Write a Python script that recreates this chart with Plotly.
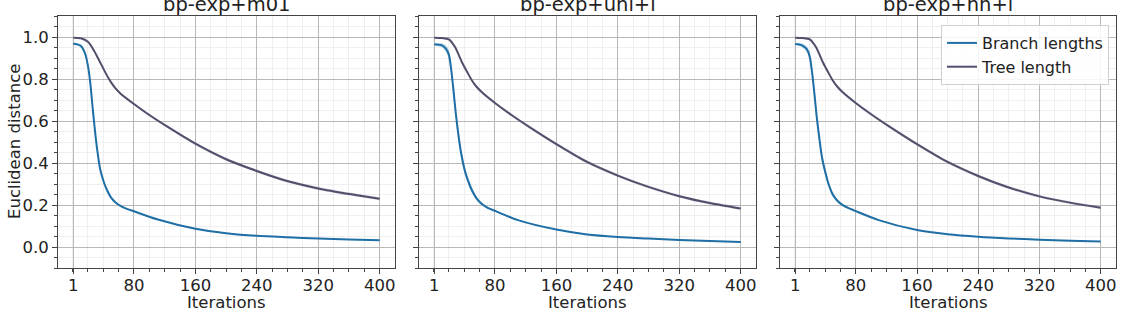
import plotly.graph_objects as go

# ---- data ----
titles = ["bp-exp+m01", "bp-exp+uni+l", "bp-exp+nn+l"]

branch_iters = [1, 6, 11, 16, 20, 23, 26, 29, 32, 36, 41, 45, 50, 56, 63, 70, 80,
                110, 160, 200, 240, 280, 320, 360, 400]
branch_m01 = [0.968, 0.965, 0.957, 0.925, 0.864, 0.785, 0.67, 0.56, 0.466, 0.37, 0.306, 0.27, 0.236, 0.212,
              0.195, 0.183, 0.170, 0.132, 0.087, 0.066, 0.053, 0.046, 0.040, 0.036, 0.032]
branch_uni = [0.965, 0.963, 0.960, 0.945, 0.915, 0.845, 0.745, 0.635, 0.545, 0.445, 0.36, 0.315, 0.27, 0.232,
              0.205, 0.188, 0.172, 0.128, 0.083, 0.060, 0.048, 0.040, 0.033, 0.028, 0.024]
branch_nn = [0.967, 0.964, 0.958, 0.942, 0.905, 0.83, 0.73, 0.62, 0.53, 0.425, 0.345, 0.294, 0.25, 0.22,
             0.199, 0.186, 0.171, 0.128, 0.081, 0.061, 0.049, 0.041, 0.035, 0.030, 0.026]
branch_m01_sd = [0.005, 0.006, 0.008, 0.012, 0.018, 0.02, 0.02, 0.02, 0.018, 0.014, 0.01, 0.009, 0.007, 0.005,
                 0.004, 0.003, 0.003, 0.002, 0.002, 0.002, 0.002, 0.002, 0.002, 0.002, 0.002]
branch_uni_sd = [0.005, 0.007, 0.010, 0.016, 0.024, 0.03, 0.03, 0.03, 0.028, 0.025, 0.02, 0.018, 0.015, 0.01,
                 0.007, 0.005, 0.004, 0.002, 0.002, 0.002, 0.002, 0.002, 0.002, 0.002, 0.002]
branch_nn_sd = [0.005, 0.007, 0.010, 0.015, 0.022, 0.027, 0.028, 0.028, 0.026, 0.022, 0.018, 0.015, 0.012, 0.008,
                0.006, 0.004, 0.004, 0.002, 0.002, 0.002, 0.002, 0.002, 0.002, 0.002, 0.002]

tree_iters = [1, 11, 20, 28, 37, 44, 50, 56, 63, 80, 101, 123, 160, 200, 240, 276, 320, 363, 400]
tree_m01 = [0.997, 0.994, 0.977, 0.935, 0.872, 0.822, 0.785, 0.755, 0.729, 0.681, 0.626, 0.574, 0.492, 0.418,
            0.362, 0.318, 0.279, 0.251, 0.230]
tree_uni = [0.997, 0.995, 0.989, 0.952, 0.880, 0.832, 0.793, 0.763, 0.737, 0.686, 0.630, 0.576, 0.490, 0.405,
            0.340, 0.291, 0.242, 0.207, 0.183]
tree_nn = [0.997, 0.995, 0.989, 0.952, 0.880, 0.832, 0.793, 0.763, 0.737, 0.686, 0.630, 0.576, 0.490, 0.405,
           0.338, 0.288, 0.241, 0.209, 0.187]
tree_sd = [0.002, 0.003, 0.004, 0.006, 0.006, 0.006, 0.006, 0.006, 0.006, 0.006, 0.006, 0.006, 0.007, 0.007,
           0.007, 0.007, 0.007, 0.007, 0.007]

x_ticks = [1, 80, 160, 240, 320, 400]
y_ticks = [0.0, 0.2, 0.4, 0.6, 0.8, 1.0]

panels = [
    (branch_m01, branch_m01_sd, tree_m01, tree_sd),
    (branch_uni, branch_uni_sd, tree_uni, tree_sd),
    (branch_nn, branch_nn_sd, tree_nn, tree_sd),
]

# ---- style ----
FONT = "DejaVu Sans"
W, H = 1124, 316
ML, MR, MT, MB = 58, 8, 16, 48
pw = W - ML - MR
ph = H - MT - MB
px_domains = [(58, 395), (419, 756), (780, 1116)]
domains = [((a - ML) / pw, (b - ML) / pw) for a, b in px_domains]

BLUE = "#1f6fa6"
BLUE_BAND = "rgba(31,119,180,0.25)"
GRAY = "#50506c"
GRAY_BAND = "rgba(80,80,120,0.22)"
SMOOTH = 0.7

fig = go.Figure()

for i, (b, bsd, t, tsd) in enumerate(panels):
    xa = "x" if i == 0 else f"x{i+1}"
    ya = "y" if i == 0 else f"y{i+1}"
    for xs, vals, sd, col, band, name in [(branch_iters, b, bsd, BLUE, BLUE_BAND, "Branch lengths"),
                                          (tree_iters, t, tsd, GRAY, GRAY_BAND, "Tree length")]:
        lo = [v - s for v, s in zip(vals, sd)]
        hi = [v + s for v, s in zip(vals, sd)]
        fig.add_trace(go.Scatter(x=xs, y=lo, mode="lines",
                                 line=dict(width=0, shape="spline", smoothing=SMOOTH),
                                 showlegend=False, hoverinfo="skip", xaxis=xa, yaxis=ya))
        fig.add_trace(go.Scatter(x=xs, y=hi, mode="lines",
                                 line=dict(width=0, shape="spline", smoothing=SMOOTH),
                                 fill="tonexty", fillcolor=band, showlegend=False, hoverinfo="skip",
                                 xaxis=xa, yaxis=ya))
        fig.add_trace(go.Scatter(x=xs, y=vals, mode="lines", name=name,
                                 line=dict(color=col, width=2, shape="spline", smoothing=SMOOTH),
                                 showlegend=(i == 2), xaxis=xa, yaxis=ya))

axis_common = dict(
    showline=True, linecolor="#444", linewidth=1, mirror=True,
    showgrid=True, gridcolor="#b8b8b8", gridwidth=1,
    ticks="outside", ticklen=5, tickcolor="#444", tickwidth=1,
    tickfont=dict(family=FONT, size=16.5, color="#222"),
    zeroline=False,
)

layout = dict(
    width=W, height=H,
    margin=dict(l=ML, r=MR, t=MT, b=MB),
    paper_bgcolor="white", plot_bgcolor="white",
    font=dict(family=FONT, color="#222"),
    showlegend=True,
    legend=dict(x=(1109 - ML) / pw, y=(MT + ph - 25) / ph, xanchor="right", yanchor="top",
                traceorder="normal",
                bgcolor="rgba(255,255,255,0.85)", bordercolor="#d0d0d0", borderwidth=1,
                font=dict(family=FONT, size=16, color="#222"), tracegroupgap=0),
)

annotations = []
for i in range(3):
    sfx = "" if i == 0 else str(i + 1)
    layout["xaxis" + sfx] = dict(
        axis_common, domain=list(domains[i]), range=[-18.95, 419.95],
        tickmode="array", tickvals=x_ticks, ticktext=[str(v) for v in x_ticks],
        anchor="y" + sfx, ticklabelstandoff=-3,
        minor=dict(tickmode="array", tickvals=list(range(0, 420, 20)), ticks="outside", ticklen=3,
                   tickcolor="#444", showgrid=True, gridcolor="#efefef", gridwidth=1),
    )
    layout["yaxis" + sfx] = dict(
        axis_common, range=[-0.1, 1.1], anchor="x" + sfx,
        tickmode="array", tickvals=y_ticks, ticktext=[f"{v:.1f}" for v in y_ticks],
        showticklabels=(i == 0),
        minor=dict(tickmode="array", tickvals=[round(-0.1 + 0.05 * k, 2) for k in range(25)],
                   ticks="outside", ticklen=3, tickcolor="#444",
                   showgrid=True, gridcolor="#efefef", gridwidth=1),
    )
    cx = (domains[i][0] + domains[i][1]) / 2
    annotations.append(dict(text=titles[i], x=cx, y=(MT + ph - 5) / ph, xref="paper", yref="paper",
                            xanchor="center", yanchor="middle", showarrow=False,
                            font=dict(family=FONT, size=19.5, color="#222")))
    annotations.append(dict(text="Iterations", x=cx, y=(MT + ph - 302) / ph, xref="paper", yref="paper",
                            xanchor="center", yanchor="middle", showarrow=False,
                            font=dict(family=FONT, size=16.5, color="#222")))

annotations.append(dict(text="Euclidean distance", x=(14 - ML) / pw, y=0.5, xref="paper", yref="paper",
                        xanchor="center", yanchor="middle", textangle=-90, showarrow=False,
                        font=dict(family=FONT, size=16.5, color="#222")))
layout["annotations"] = annotations

fig.update_layout(**layout)
fig.write_html("out.html", config={"displayModeBar": False},
               post_script="document.body.style.margin='0';document.body.style.padding='0';")
